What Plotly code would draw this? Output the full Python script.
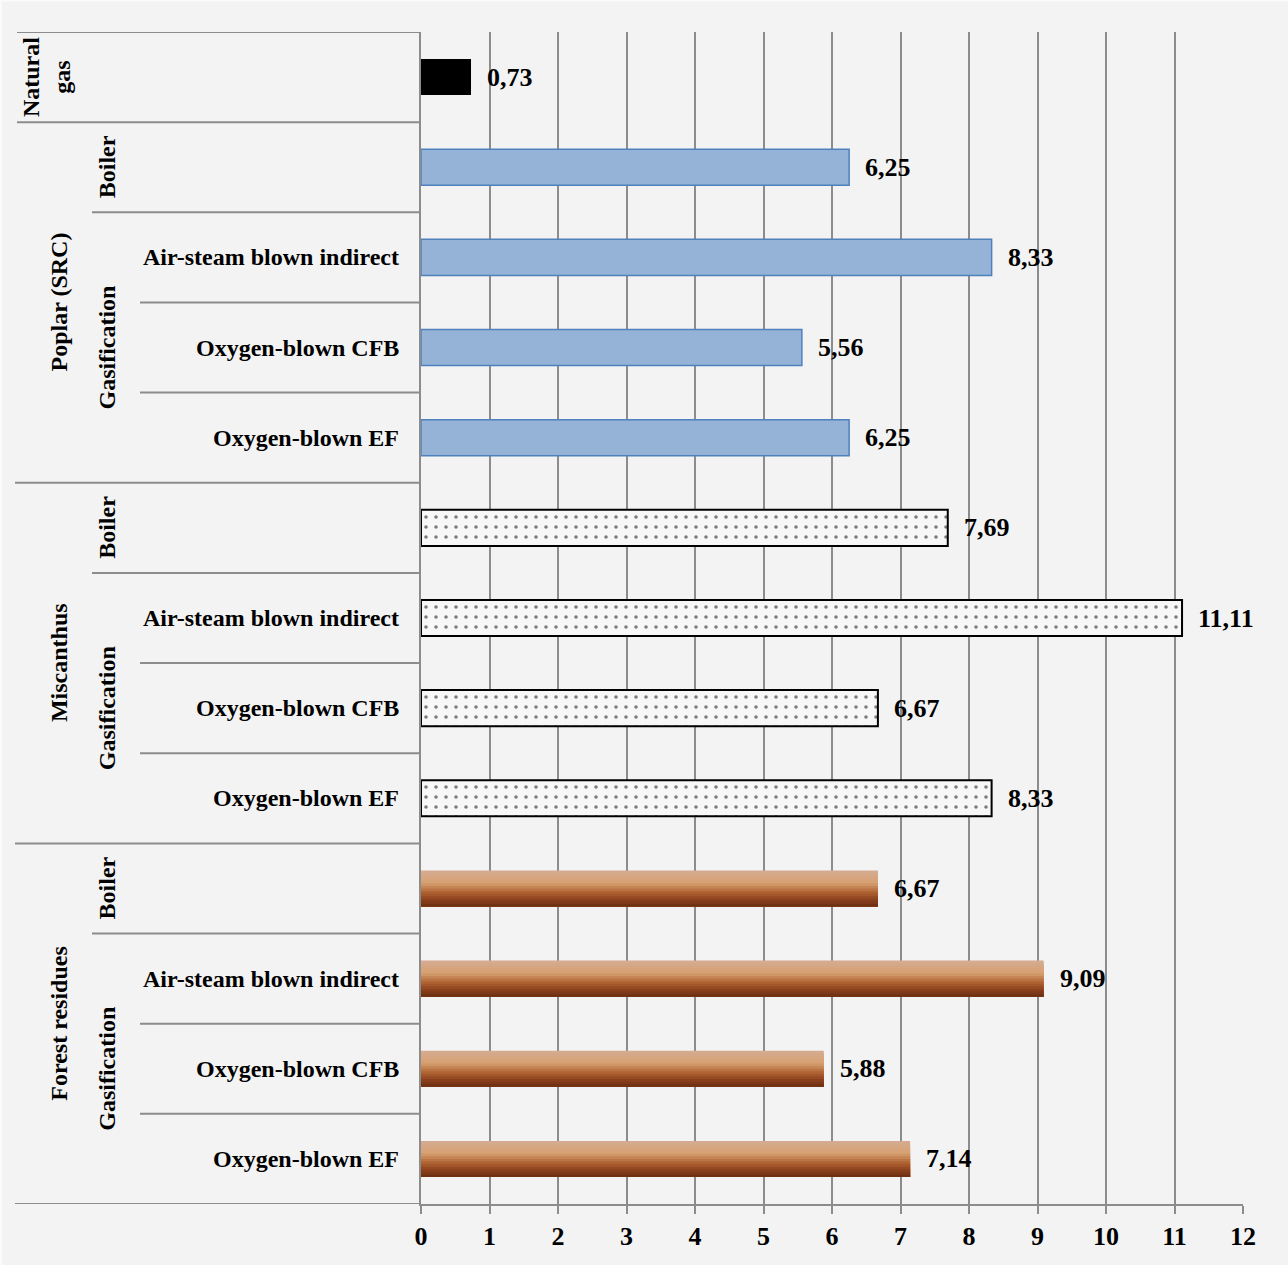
import plotly.graph_objects as go

# ---- data -------------------------------------------------------------
feedstocks = ["Natural gas", "Poplar (SRC)", "Miscanthus", "Forest residues"]
technologies = ["Boiler", "Air-steam blown indirect", "Oxygen-blown CFB", "Oxygen-blown EF"]
natural_gas = [0.73]
poplar = [6.25, 8.33, 5.56, 6.25]
miscanthus = [7.69, 11.11, 6.67, 8.33]
forest_residues = [6.67, 9.09, 5.88, 7.14]
x_ticks = list(range(0, 13))

# ---- styling ----------------------------------------------------------
FONT = "Liberation Serif"
GRID = "#8c8c8c"
BG = "#f3f3f3"
BAR_W = 0.4
W, H = 1288, 1265
ML, MR, MT, MB = 421, 45, 32, 61
PLOT_W = W - ML - MR


def px_to_paper(px):
    return (px - ML) / PLOT_W


def fmt(v):
    return f"{v:.2f}".replace(".", ",")


def bold(size):
    return dict(family=FONT, size=size, color="black", weight="bold")


# row index of each bar, top to bottom
rows_ng = [0]
rows_poplar = [1 + i for i in range(len(poplar))]
rows_misc = [5 + i for i in range(len(miscanthus))]
rows_forest = [9 + i for i in range(len(forest_residues))]

fig = go.Figure()

fig.add_trace(go.Bar(
    x=natural_gas, y=rows_ng, orientation="h", width=BAR_W,
    marker=dict(color="#000000", line=dict(width=0)),
    hoverinfo="skip",
))

fig.add_trace(go.Bar(
    x=poplar, y=rows_poplar, orientation="h", width=BAR_W,
    marker=dict(color="#95b3d7", line=dict(color="#4f81bd", width=1.5)),
    hoverinfo="skip",
))

fig.add_trace(go.Bar(
    x=miscanthus, y=rows_misc, orientation="h", width=BAR_W,
    marker=dict(
        color="#f7f7f7",
        line=dict(color="#000000", width=2),
        pattern=dict(shape=".", fgcolor="#000000", bgcolor="#f7f7f7",
                     size=10, solidity=0.1),
    ),
    hoverinfo="skip",
))

# brown vertical gradient built from stacked strips (light top -> dark bottom)
stops = [(0.0, (213, 171, 146)), (0.35, (214, 160, 112)),
         (0.6, (176, 100, 52)), (0.8, (142, 66, 30)), (1.0, (105, 46, 16))]


def grad_color(t):
    for (t0, c0), (t1, c1) in zip(stops[:-1], stops[1:]):
        if t <= t1:
            f = (t - t0) / (t1 - t0) if t1 > t0 else 0
            return "rgb(%d,%d,%d)" % tuple(round(a + (b - a) * f) for a, b in zip(c0, c1))
    return "rgb(%d,%d,%d)" % stops[-1][1]


N_STRIPS = 14
for k in range(N_STRIPS):
    off = -BAR_W / 2 + k * BAR_W / N_STRIPS
    fig.add_trace(go.Bar(
        x=forest_residues, y=rows_forest, orientation="h",
        width=BAR_W / 2 - off, offset=off,
        marker=dict(color=grad_color((k + 0.5) / N_STRIPS), line=dict(width=0)),
        hoverinfo="skip",
    ))

# value labels
annotations = []
for rows, vals in [(rows_ng, natural_gas), (rows_poplar, poplar),
                   (rows_misc, miscanthus), (rows_forest, forest_residues)]:
    for r, v in zip(rows, vals):
        annotations.append(dict(
            x=v, y=r, xref="x", yref="y", text=fmt(v), showarrow=False,
            xanchor="left", yanchor="middle", xshift=14, font=bold(26),
        ))

# technology labels (right-aligned next to the axis)
for group_rows in (rows_poplar, rows_misc, rows_forest):
    for r, name in zip(group_rows[1:], technologies[1:]):
        annotations.append(dict(
            x=px_to_paper(401), y=r, xref="paper", yref="y", text=name,
            showarrow=False, xanchor="right", yanchor="middle", font=bold(24),
        ))
    # boiler (rotated, single row)
    annotations.append(dict(
        x=px_to_paper(107), y=group_rows[0], xref="paper", yref="y",
        text=technologies[0], textangle=-90, showarrow=False,
        xanchor="center", yanchor="middle", font=bold(24),
    ))
    # gasification spans the three gasifier rows
    annotations.append(dict(
        x=px_to_paper(107), y=sum(group_rows[1:]) / 3, xref="paper", yref="y",
        text="Gasification", textangle=-90, showarrow=False,
        xanchor="center", yanchor="middle", font=bold(24),
    ))

# feedstock labels
annotations.append(dict(
    x=px_to_paper(46), y=0, xref="paper", yref="y", text="Natural<br>gas",
    textangle=-90, showarrow=False, xanchor="center", yanchor="middle",
    font=bold(24),
))
for name, group_rows in zip(feedstocks[1:], (rows_poplar, rows_misc, rows_forest)):
    annotations.append(dict(
        x=px_to_paper(59), y=sum(group_rows) / len(group_rows), xref="paper", yref="y",
        text=name, textangle=-90, showarrow=False, xanchor="center", yanchor="middle",
        font=bold(24),
    ))

# separator lines of the category table
shapes = []


def hline(y, x_px0, x_px1=ML):
    shapes.append(dict(type="line", xref="paper", yref="y",
                       x0=px_to_paper(x_px0), x1=px_to_paper(x_px1), y0=y, y1=y,
                       line=dict(color=GRID, width=2), layer="below"))


hline(-0.5, 17)
hline(0.5, 17)
for group_rows in (rows_poplar, rows_misc, rows_forest):
    hline(group_rows[0] + 0.5, 92)
    hline(group_rows[1] + 0.5, 140)
    hline(group_rows[2] + 0.5, 140)
    hline(group_rows[3] + 0.5, 15)
# thin light edge on top/left of the canvas
shapes.append(dict(type="line", xref="paper", yref="paper",
                   x0=px_to_paper(0), x1=px_to_paper(W), y0=1 + MT / (H - MT - MB) - 0.0004,
                   y1=1 + MT / (H - MT - MB) - 0.0004, line=dict(color="#fbfbfb", width=2)))
shapes.append(dict(type="line", xref="paper", yref="paper",
                   x0=px_to_paper(1), x1=px_to_paper(1), y0=-MB / (H - MT - MB),
                   y1=1 + MT / (H - MT - MB), line=dict(color="#fbfbfb", width=2)))

fig.update_layout(
    width=W, height=H,
    margin=dict(l=ML, r=MR, t=MT, b=MB, pad=0),
    paper_bgcolor=BG, plot_bgcolor=BG,
    barmode="overlay", showlegend=False,
    font=bold(24),
    xaxis=dict(
        range=[0, 12], tickvals=x_ticks, ticktext=[str(t) for t in x_ticks],
        showgrid=True, gridcolor=GRID, gridwidth=2, zeroline=False,
        showline=True, linecolor=GRID, linewidth=2,
        ticks="outside", ticklen=8, tickwidth=2, tickcolor=GRID,
        tickfont=bold(26), fixedrange=True,
    ),
    yaxis=dict(
        range=[12.5, -0.5], showticklabels=False, showgrid=False, zeroline=False,
        showline=True, linecolor=GRID, linewidth=2, ticks="", fixedrange=True,
    ),
    annotations=annotations,
    shapes=shapes,
)

fig.write_html("out.html", config={"displayModeBar": False})
